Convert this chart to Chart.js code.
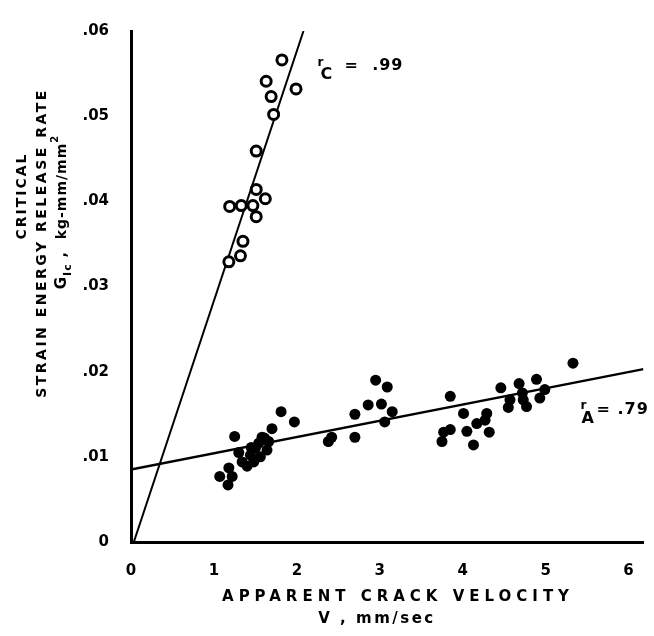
<!DOCTYPE html>
<html lang="en">
<head>
    <meta charset="UTF-8" />
    <title>Critical strain energy release rate vs crack velocity</title>
    <script src="https://cdn.jsdelivr.net/npm/chart.js"></script>
    <style>
        body { margin: 0; background: #fff; }
        #wrap { width: 654px; height: 636px; }
    </style>
</head>
<body>
    <div id="wrap"><canvas id="chart" width="654" height="636"></canvas></div>

    <script>
        // series C (open circles)
        const velC = [1.82, 1.63, 1.99, 1.69, 1.72, 1.51, 1.51, 1.62, 1.19, 1.33, 1.47, 1.51, 1.35, 1.32, 1.18];
        const grC  = [.0566, .0541, .0532, .0523, .0502, .0459, .0414, .0403, .0394, .0395, .0395, .0382, .0353, .0336, .0329];

        // series A (filled circles)
        const velA = [2.95, 3.09, 2.86, 3.02, 3.15, 2.70, 3.06, 1.81, 1.97, 1.70, 1.25, 1.58, 2.42, 2.38, 2.70,
                      1.66, 1.54, 1.30, 1.50, 1.64, 1.44, 1.40, 1.18, 1.07, 1.22, 1.17, 1.48, 1.56, 1.34, 1.45, 1.61,
                      5.33, 4.89, 4.68, 4.46, 4.99, 3.85, 4.72, 4.93, 4.57, 4.73, 4.55, 4.77, 4.01, 4.29,
                      4.27, 4.17, 3.85, 3.77, 4.05, 4.32, 3.75, 4.13];
        const grA  = [.0190, .0182, .0161, .0162, .0153, .0150, .0141, .0153, .0141, .0133, .0124, .0123, .0123, .0118, .0123,
                      .0118, .0116, .0105, .0110, .0108, .0102, .0089, .0087, .0077, .0077, .0067, .0094, .0100, .0094, .0111, .0122,
                      .0210, .0191, .0186, .0181, .0179, .0171, .0175, .0169, .0167, .0167, .0158, .0159, .0151, .0151,
                      .0143, .0139, .0132, .0129, .0130, .0129, .0118, .0114];

        // fitted lines
        const fitCVel = [0.034, 2.08];
        const fitCGr  = [0, 0.06];
        const fitAVel = [0, 6.18];
        const fitAGr  = [0.0085, 0.0203];

        const xTicks = [0, 1, 2, 3, 4, 5, 6];
        const yTicks = [0, .01, .02, .03, .04, .05, .06];
        const yTickLabels = ['0', '.01', '.02', '.03', '.04', '.05', '.06'];

        const xTitle = ['APPARENT CRACK VELOCITY', 'V , mm/sec'];
        const yTitle = ['CRITICAL', 'STRAIN ENERGY RELEASE RATE'];

        const toPts = (xs, ys) => xs.map((x, i) => ({ x: x, y: ys[i] }));
        const FONT = '"DejaVu Sans", sans-serif';

        // draws a row of text pieces (different sizes / offsets) centred on 0
        function drawPieces(ctx, pieces) {
            let total = 0;
            pieces.forEach(p => { ctx.font = p.font; total += ctx.measureText(p.t).width; });
            let x = -total / 2;
            ctx.textAlign = 'left';
            pieces.forEach(p => {
                ctx.font = p.font;
                ctx.fillText(p.t, x, p.dy || 0);
                x += ctx.measureText(p.t).width;
            });
        }

        const textPlugin = {
            id: 'texts',
            afterDraw(chart) {
                const ctx = chart.ctx;
                const xs = chart.scales.x, ys = chart.scales.y;
                ctx.save();
                ctx.fillStyle = '#000';
                ctx.textBaseline = 'middle';
                ctx.textAlign = 'center';

                // x title
                ctx.letterSpacing = '5px';
                ctx.font = 'bold 15px ' + FONT;
                ctx.fillText(xTitle[0], 398, 597);
                ctx.letterSpacing = '2.5px';
                ctx.font = 'bold 15px ' + FONT;
                ctx.fillText(xTitle[1], 377, 619);

                // y title, rotated
                ctx.save();
                ctx.translate(22, 196);
                ctx.rotate(-Math.PI / 2);
                ctx.letterSpacing = '2px';
                ctx.font = 'bold 14px ' + FONT;
                ctx.fillText(yTitle[0], 0, 0);
                ctx.restore();

                ctx.save();
                ctx.translate(42, 243);
                ctx.rotate(-Math.PI / 2);
                ctx.letterSpacing = '2.5px';
                ctx.font = 'bold 14px ' + FONT;
                ctx.fillText(yTitle[1], 0, 0);
                ctx.restore();

                ctx.save();
                ctx.translate(62, 212);
                ctx.rotate(-Math.PI / 2);
                ctx.letterSpacing = '1px';
                drawPieces(ctx, [
                    { t: 'G', font: 'bold 15px ' + FONT },
                    { t: 'Ic', font: 'bold 11px ' + FONT, dy: 6 },
                    { t: ' ,  kg-mm/mm', font: 'bold 14px ' + FONT },
                    { t: '2', font: 'bold 10px ' + FONT, dy: -7 }
                ]);
                ctx.restore();

                // correlation labels
                ctx.letterSpacing = '1px';
                ctx.textAlign = 'left';
                let px = xs.getPixelForValue(2.25), py = ys.getPixelForValue(0.0563);
                ctx.font = 'bold 12px ' + FONT;
                ctx.fillText('r', px, py);
                ctx.font = 'bold 16px ' + FONT;
                ctx.fillText('C', px + 3, py + 12);
                ctx.fillText('=  .99', px + 27, py + 3);

                px = xs.getPixelForValue(5.42); py = ys.getPixelForValue(0.0160);
                ctx.font = 'bold 12px ' + FONT;
                ctx.fillText('r', px, py);
                ctx.font = 'bold 16px ' + FONT;
                ctx.fillText('A', px + 1, py + 13);
                ctx.fillText('= .79', px + 16, py + 4);
                ctx.restore();
            }
        };

        new Chart(document.getElementById('chart'), {
            type: 'scatter',
            data: {
                datasets: [
                    {
                        label: 'C',
                        data: toPts(velC, grC),
                        pointRadius: 5,
                        pointBorderWidth: 3,
                        pointBorderColor: '#000',
                        pointBackgroundColor: '#fff'
                    },
                    {
                        label: 'A',
                        data: toPts(velA, grA),
                        pointRadius: 5.5,
                        pointBorderWidth: 0,
                        pointBackgroundColor: '#000'
                    },
                    {
                        type: 'line',
                        label: 'fit C',
                        data: toPts(fitCVel, fitCGr),
                        borderColor: '#000',
                        borderWidth: 2,
                        pointRadius: 0,
                        fill: false
                    },
                    {
                        type: 'line',
                        label: 'fit A',
                        data: toPts(fitAVel, fitAGr),
                        borderColor: '#000',
                        borderWidth: 2.5,
                        pointRadius: 0,
                        fill: false
                    }
                ]
            },
            options: {
                responsive: false,
                animation: false,
                layout: { padding: { top: 20, right: 6, left: 0, bottom: 0 } },
                plugins: {
                    legend: { display: false },
                    tooltip: { enabled: false }
                },
                scales: {
                    x: {
                        type: 'linear',
                        min: 0,
                        max: 6.18,
                        afterBuildTicks: s => { s.ticks = xTicks.map(v => ({ value: v })); },
                        afterFit: s => { s.height = 94; },
                        grid: { display: false, drawTicks: false },
                        border: { display: true, color: '#000', width: 3 },
                        ticks: {
                            color: '#000',
                            padding: 20,
                            font: { family: FONT, size: 15, weight: 'bold' },
                            callback: v => String(v)
                        }
                    },
                    y: {
                        min: 0,
                        max: 0.06,
                        afterBuildTicks: s => { s.ticks = yTicks.map(v => ({ value: v })); },
                        afterFit: s => { s.width = 131; },
                        grid: { display: false, drawTicks: false },
                        border: { display: true, color: '#000', width: 3 },
                        ticks: {
                            color: '#000',
                            padding: 22,
                            font: { family: FONT, size: 15, weight: 'bold' },
                            callback: (v, i) => yTickLabels[i]
                        }
                    }
                }
            },
            plugins: [textPlugin]
        });
    </script>
</body>
</html>
